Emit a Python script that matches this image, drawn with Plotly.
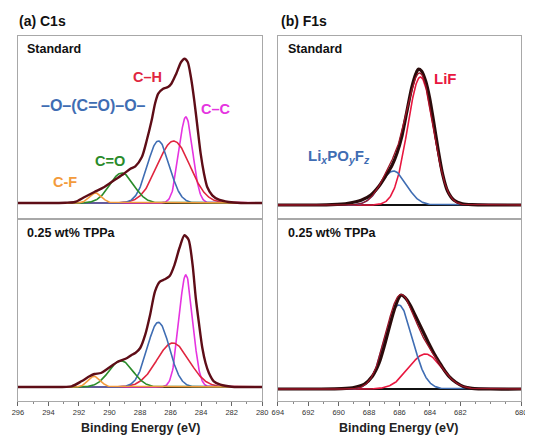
import numpy as np
import plotly.graph_objects as go

# the page body adds an 8 px margin, so the figure is sized to fill the rest of the window
OFF = 8
W, H = 533 - OFF, 439 - OFF

# ---------------- data ----------------
# C1s raw spectra (binding energy, intensity a.u.)
c1s_std_energy = [296, 294, 292.9, 292.27, 291.63, 290.99, 290.34, 289.70, 289.06, 288.63, 288.31,
                  287.88, 287.56, 287.24, 287.02, 286.81, 286.49, 286.17, 285.95, 285.63, 285.31,
                  285.09, 284.88, 284.67, 284.45, 284.24, 284.03, 283.81, 283.6, 283.27, 282.84,
                  282.2, 281.4, 280]
c1s_std_counts = [0, 0, 0.3, 1, 6, 11, 16, 22.7, 29.3, 34.3, 36.7,
                  46, 62.7, 82.7, 99.3, 109.3, 114.3, 116, 119.3, 129.3, 141,
                  144.3, 141, 126, 102.7, 76, 49.3, 29.3, 16, 7.7, 3.3,
                  1, 0, 0]

c1s_tppa_energy = [296, 294, 292.49, 291.84, 291.31, 290.99, 290.56, 290.13, 289.49, 288.85, 288.53,
                   288.31, 287.99, 287.66, 287.34, 287.02, 286.7, 286.38, 286.06, 285.74, 285.42,
                   285.09, 284.82, 284.56, 284.35, 284.13, 283.92, 283.71, 283.49, 283.17, 282.74,
                   281.99, 280]
c1s_tppa_counts = [0, 0, 0.7, 5.7, 10.7, 13, 14, 18.3, 25, 29, 32.3,
                   34, 39, 52.3, 72.3, 95.7, 105.3, 107.7, 111, 122.3, 139,
                   151.7, 147.3, 122.3, 89, 62.3, 39, 24, 14, 5.7, 2.3,
                   0.3, 0]

# C1s fitted components
c1s_names = ["C–C", "C–H", "–O–(C=O)–O–", "C=O", "C-F"]
c1s_colors = ["#e534e0", "#e0263f", "#3f6db3", "#2a8b2a", "#f39b3c"]
c1s_label_sizes = [14.5, 14.5, 16, 14.5, 14.5]
c1s_fwhm = [1.05, 2.5, 1.7, 1.85, 0.95]
c1s_std_centers = [285.0, 285.8, 286.8, 289.2, 290.9]
c1s_std_heights = [86, 62, 62, 30, 10]
c1s_tppa_centers = [285.0, 285.85, 286.8, 289.25, 291.0]
c1s_tppa_heights = [112, 44, 64.7, 26.3, 10.7]

# F1s raw spectra
f1s_std_energy = [694, 691.5, 690.44, 689.37, 688.52, 687.88, 687.34, 686.91, 686.48, 686.16, 685.84,
                  685.52, 685.20, 684.92, 684.77, 684.55, 684.28, 684.02, 683.76, 683.48, 683.16,
                  682.84, 682.41, 681.87, 681.23, 680, 678]
f1s_std_counts = [0, 0, 0.3, 1.7, 4.7, 10, 19, 29, 40, 52, 69,
                  93, 117, 131.3, 135.7, 134, 124, 107.3, 84, 57.3, 30.7,
                  14, 4.7, 1.3, 0.3, 0, 0]

f1s_tppa_energy = [694, 691.5, 689.80, 688.94, 688.30, 687.77, 687.34, 686.98, 686.63, 686.33, 686.05,
                   685.90, 685.63, 685.30, 684.98, 684.66, 684.34, 684.02, 683.70, 683.38, 683.06,
                   682.73, 682.30, 681.77, 681.23, 680, 678]
f1s_tppa_counts = [0, 0, 0.3, 1.7, 5, 13, 26, 44, 64, 80, 91,
                   94, 91.3, 84, 74, 64, 54, 44, 34.7, 26.7, 19,
                   12.3, 6.7, 2.3, 0.7, 0, 0]

# F1s fitted components
f1s_names = ["LiF", "Li<sub><i>x</i></sub>PO<sub><i>y</i></sub>F<sub><i>z</i></sub>"]
f1s_colors = ["#e8173f", "#3f6db3"]
f1s_std_centers = [684.62, 686.4]
f1s_std_heights = [128, 34]
f1s_std_fwhm = [2.0, 2.0]
f1s_tppa_centers = [684.3, 686.05]
f1s_tppa_heights = [35, 84]
f1s_tppa_fwhm = [2.55, 2.12]

# axis ticks
c1s_tick_values = [296, 294, 292, 290, 288, 286, 284, 282, 280]
c1s_tick_labels = ["296", "294", "292", "290", "288", "286", "284", "282", "280"]
f1s_tick_values = [694, 692, 690, 688, 686, 684, 682, 678]
f1s_tick_labels = ["694", "692", "690", "688", "686", "684", "682", "680"]

sample_names = ["Standard", "0.25 wt% TPPa"]
panel_titles = ["(a) C1s", "(b) F1s"]
x_title = "Binding Energy (eV)"

# ---------------- figure ----------------
FONT = "Arial, Liberation Sans, sans-serif"
RAW_C = "#5e0d17"
FRAME = "#a8a8a8"


def gauss(grid, c, h, fwhm):
    s = fwhm / 2.3548
    return h * np.exp(-0.5 * ((grid - c) / s) ** 2)


fig = go.Figure()

c1s_grid = np.linspace(280, 296, 500)
f1s_grid = np.linspace(678, 694, 500)

# C1s panels
for (cents, hts, en, cnt, xa, ya) in [
    (c1s_std_centers, c1s_std_heights, c1s_std_energy, c1s_std_counts, "x", "y"),
    (c1s_tppa_centers, c1s_tppa_heights, c1s_tppa_energy, c1s_tppa_counts, "x2", "y2"),
]:
    for c, h, fw, col in zip(cents, hts, c1s_fwhm, c1s_colors):
        fig.add_trace(go.Scatter(x=c1s_grid, y=gauss(c1s_grid, c, h, fw), mode="lines",
                                 line=dict(color=col, width=1.6), xaxis=xa, yaxis=ya,
                                 showlegend=False, hoverinfo="skip"))
    fig.add_trace(go.Scatter(x=en, y=cnt, mode="lines",
                             line=dict(color=RAW_C, width=2.4, shape="spline", smoothing=0.7),
                             xaxis=xa, yaxis=ya, showlegend=False))

# F1s panels
for (cents, hts, fws, en, cnt, xa, ya) in [
    (f1s_std_centers, f1s_std_heights, f1s_std_fwhm, f1s_std_energy, f1s_std_counts, "x3", "y3"),
    (f1s_tppa_centers, f1s_tppa_heights, f1s_tppa_fwhm, f1s_tppa_energy, f1s_tppa_counts, "x4", "y4"),
]:
    total = np.zeros_like(f1s_grid)
    for c, h, fw, col in zip(cents, hts, fws, f1s_colors):
        comp = gauss(f1s_grid, c, h, fw)
        total = total + comp
        fig.add_trace(go.Scatter(x=f1s_grid, y=comp, mode="lines",
                                 line=dict(color=col, width=1.6), xaxis=xa, yaxis=ya,
                                 showlegend=False, hoverinfo="skip"))
    fig.add_trace(go.Scatter(x=en, y=cnt, mode="lines",
                             line=dict(color="#2a0b0b", width=3.2, shape="spline", smoothing=0.7),
                             xaxis=xa, yaxis=ya, showlegend=False))
    fig.add_trace(go.Scatter(x=f1s_grid, y=total, mode="lines",
                             line=dict(color="#9a1526", width=1.3),
                             xaxis=xa, yaxis=ya, showlegend=False, hoverinfo="skip"))


def px(x):
    # x given in window pixels
    return (x - OFF) / W


def py(y):
    return 1 - (y - OFF) / H


L_DOM = [px(12), px(262)]
R_DOM = [px(278), px(527)]
T_DOM = [py(219), py(36)]
B_DOM = [py(401), py(219)]

frame = dict(showline=True, mirror=True, linecolor=FRAME, linewidth=1.2,
             showgrid=False, zeroline=False)


def xax(dom, rng, anchor, labels, vals):
    d = dict(domain=dom, range=rng, anchor=anchor, **frame)
    if labels is None:
        d.update(showticklabels=False, ticks="")
    else:
        d.update(tickmode="array", tickvals=vals, ticktext=labels, ticks="outside",
                 ticklen=4, tickwidth=1, tickcolor="#666",
                 tickfont=dict(family=FONT, size=7.5, color="#333"),
                 minor=dict(dtick=1, tick0=0, ticks="outside", ticklen=2, tickcolor="#888"))
    return d


def yax(dom, rng, anchor):
    d = dict(domain=dom, range=rng, anchor=anchor, showticklabels=False, ticks="", **frame)
    d.update(zeroline=True, zerolinecolor="#111", zerolinewidth=1.6)
    return d


fig.update_layout(
    width=W, height=H, margin=dict(l=0, r=0, t=0, b=0),
    paper_bgcolor="white", plot_bgcolor="white",
    xaxis=xax(L_DOM, [296, 280], "y", None, None),
    yaxis=yax(T_DOM, [-16, 167], "x"),
    xaxis2=xax(L_DOM, [296, 280], "y2", c1s_tick_labels, c1s_tick_values),
    yaxis2=yax(B_DOM, [-14, 168], "x2"),
    xaxis3=xax(R_DOM, [694, 678], "y3", None, None),
    yaxis3=yax(T_DOM, [-14, 169], "x3"),
    xaxis4=xax(R_DOM, [694, 678], "y4", f1s_tick_labels, f1s_tick_values),
    yaxis4=yax(B_DOM, [-12, 170], "x4"),
    font=dict(family=FONT),
)

ann = []
# panel titles
ann.append(dict(text=f"<b>{panel_titles[0]}</b>", x=px(11), y=py(21), xanchor="left", yanchor="middle",
                font=dict(size=14, color="#111")))
ann.append(dict(text=f"<b>{panel_titles[1]}</b>", x=px(279), y=py(21), xanchor="left", yanchor="middle",
                font=dict(size=14, color="#111")))
# sample names
for xl in (19, 286):
    ann.append(dict(text=f"<b>{sample_names[0]}</b>", x=px(xl), y=py(49), xanchor="left", yanchor="middle",
                    font=dict(size=12.5, color="#111")))
    ann.append(dict(text=f"<b>{sample_names[1]}</b>", x=px(xl), y=py(233), xanchor="left", yanchor="middle",
                    font=dict(size=12.5, color="#111")))
# x titles
ann.append(dict(text=f"<b>{x_title}</b>", x=px(137), y=py(428), xanchor="center", yanchor="middle",
                font=dict(size=12.5, color="#222")))
ann.append(dict(text=f"<b>{x_title}</b>", x=px(402), y=py(428), xanchor="center", yanchor="middle",
                font=dict(size=12.5, color="#222")))
for a in ann:
    a.update(xref="paper", yref="paper", showarrow=False)

# component labels (data coordinates)
c1s_label_pos = [(283.0, 94), (287.5, 126), (291.05, 97), (289.95, 42), (292.9, 21)]
for name, col, sz, (ex, ey) in zip(c1s_names, c1s_colors, c1s_label_sizes, c1s_label_pos):
    ann.append(dict(text=f"<b>{name}</b>", x=ex, y=ey, xref="x", yref="y", showarrow=False,
                    font=dict(size=sz, color=col)))
f1s_label_pos = [(682.95, 126), (690.0, 48)]
for name, col, (ex, ey) in zip(f1s_names, f1s_colors, f1s_label_pos):
    ann.append(dict(text=f"<b>{name}</b>", x=ex, y=ey, xref="x3", yref="y3", showarrow=False,
                    font=dict(size=15, color=col)))

fig.update_layout(annotations=ann)
fig.write_html("out.html")
